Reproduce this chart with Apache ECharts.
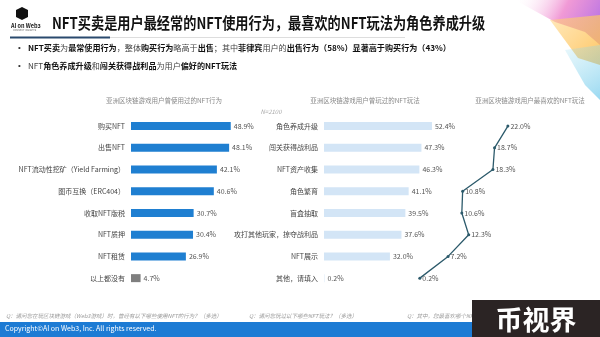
<!DOCTYPE html>
<html><head><meta charset="utf-8">
<script src="https://cdn.jsdelivr.net/npm/echarts@6/dist/echarts.min.js"></script>
<style>html,body{margin:0;padding:0;background:#fff}#c{width:600px;height:337px}</style>
</head><body><div id="c"></div>
<script>
const behaviorCats = ['购买NFT','出售NFT','NFT流动性挖矿（Yield Farming）','图币互换（ERC404）','收取NFT版税','NFT质押','NFT租赁','以上都没有'];
const behaviorVals = [48.9,48.1,42.1,40.6,30.7,30.4,26.9,4.7];
const playCats = ['角色养成升级','闯关获得战利品','NFT资产收集','角色繁育','盲盒抽取','攻打其他玩家，掠夺战利品','NFT展示','其他，请填入'];
const playVals = [52.4,47.3,46.3,41.1,39.5,37.6,32.0,0.2];
const favVals = [22.0,18.7,18.3,10.8,10.6,12.3,7.2,0.2];

const FONT = '"Noto Sans CJK SC","Noto Sans",sans-serif';
const chart = echarts.init(document.getElementById('c'), null, {renderer:'canvas'});
const gTop = 115.2, gH = 173.8;
const lblStyle = {fontSize:7, color:'#555', fontFamily:FONT};
const catLbl = {fontSize:7, color:'#444', fontFamily:FONT, margin:6};

const option = {
  backgroundColor:'#fff',
  animation:false,
  textStyle:{fontFamily:FONT},
  grid:[
    {left:131, top:gTop, width:102, height:gH},
    {left:324, top:gTop, width:113.3, height:gH},
    {left:419, top:gTop, width:101, height:gH}
  ],
  xAxis:[
    {gridIndex:0, type:'value', min:0, max:50, show:false},
    {gridIndex:1, type:'value', min:0, max:55, show:false},
    {gridIndex:2, type:'value', min:0, max:25, show:false}
  ],
  yAxis:[
    {gridIndex:0, type:'category', data:behaviorCats, inverse:true, axisLine:{show:false}, axisTick:{show:false}, axisLabel:catLbl},
    {gridIndex:1, type:'category', data:playCats, inverse:true, axisLine:{show:false}, axisTick:{show:false}, axisLabel:catLbl},
    {gridIndex:2, type:'category', data:playCats, inverse:true, show:false}
  ],
  series:[
    {type:'bar', xAxisIndex:0, yAxisIndex:0, barWidth:8,
     data:behaviorVals.map((v,i)=>({value:v, itemStyle:{color: i===7?'#7f7f7f':'#1f7fd1'}})),
     label:{show:true, position:'right', distance:3, formatter:p=>p.value.toFixed(1)+'%', ...lblStyle}},
    {type:'bar', xAxisIndex:1, yAxisIndex:1, barWidth:8,
     data:playVals, itemStyle:{color:'#d3e5f6'},
     label:{show:true, position:'right', distance:3, formatter:p=>p.value.toFixed(1)+'%', ...lblStyle}},
    {type:'line', xAxisIndex:2, yAxisIndex:2, data:favVals, symbol:'circle', symbolSize:3,
     lineStyle:{color:'#2c5a6b', width:1.3}, itemStyle:{color:'#2c5a6b'},
     label:{show:true, position:'right', distance:1, formatter:p=>p.value.toFixed(1)+'%', ...lblStyle}}
  ],
  graphic:[
    // top-right decoration
    {type:'polygon', shape:{points:[[515,0],[600,0],[600,45],[585,32],[555,22]]},
     style:{fill:new echarts.graphic.LinearGradient(0,0,1,1,[{offset:0,color:'rgba(255,255,255,0)'},{offset:0.5,color:'rgba(236,120,200,0.75)'},{offset:1,color:'rgba(160,90,230,0.9)'}])}},
    {type:'polygon', shape:{points:[[550,20],[600,15],[600,65],[578,58]]},
     style:{fill:new echarts.graphic.LinearGradient(0,0,1,1,[{offset:0,color:'rgba(255,210,120,0.5)'},{offset:1,color:'rgba(255,190,80,0.9)'}])}},
    {type:'polygon', shape:{points:[[565,50],[600,45],[600,100],[585,85]]},
     style:{fill:new echarts.graphic.LinearGradient(0,0,1,1,[{offset:0,color:'rgba(150,220,240,0.2)'},{offset:1,color:'rgba(110,200,235,0.7)'}])}},
    // logo
    {type:'polygon', shape:{points:[[22,7],[28,10],[28,17],[22,20],[16,17],[16,10]]}, style:{fill:'#111'}},
    {type:'text', left:11, top:23, style:{text:'AI on Web3', fontSize:5.5, fontWeight:'bold', fill:'#222', fontFamily:FONT}},
    {type:'text', left:13, top:29, style:{text:'CONNECT INSIGHTS', fontSize:2.5, fill:'#666', fontFamily:FONT}},
    // title
    {type:'text', x:52, y:23, scaleX:0.85, style:{text:'NFT买卖是用户最经常的NFT使用行为，最喜欢的NFT玩法为角色养成升级', fontSize:15.5, fontWeight:'bold', fill:'#111', verticalAlign:'middle', fontFamily:FONT}},
    {type:'line', shape:{x1:110, y1:37.5, x2:405, y2:37.5}, style:{stroke:'#ddd', lineWidth:1}},
    {type:'line', shape:{x1:10, y1:37.5, x2:110, y2:37.5}, style:{stroke:'#2a4a6e', lineWidth:2}},
    // bullets
    {type:'text', left:18, top:44, style:{text:'•', fontSize:8, fill:'#333'}},
    {type:'text', left:18, top:62, style:{text:'•', fontSize:8, fill:'#333'}},
    {type:'text', left:28, top:43.5, style:{
      text:'{b|NFT买卖}{n|为}{b|最常使用行为}{n|，整体}{b|购买行为}{n|略高于}{b|出售}{n|；其中}{b|菲律宾}{n|用户的}{b|出售行为（58%）显著高于购买行为（43%）}',
      rich:{b:{fontSize:8.1, fontWeight:'bold', fill:'#111', fontFamily:FONT}, n:{fontSize:8.1, fill:'#444', fontFamily:FONT}}}},
    {type:'text', left:28, top:61.5, style:{
      text:'{n|NFT}{b|角色养成升级}{n|和}{b|闯关获得战利品}{n|为用户}{b|偏好的NFT玩法}',
      rich:{b:{fontSize:8.1, fontWeight:'bold', fill:'#111', fontFamily:FONT}, n:{fontSize:8.1, fill:'#444', fontFamily:FONT}}}},
    // chart titles
    {type:'text', x:164, y:101, style:{text:'亚洲区块链游戏用户曾使用过的NFT行为', fontSize:6.5, fill:'#888', align:'center', verticalAlign:'middle', fontFamily:FONT}},
    {type:'text', x:365, y:101, style:{text:'亚洲区块链游戏用户曾玩过的NFT玩法', fontSize:6.5, fill:'#888', align:'center', verticalAlign:'middle', fontFamily:FONT}},
    {type:'text', x:530, y:101, style:{text:'亚洲区块链游戏用户最喜欢的NFT玩法', fontSize:6.5, fill:'#888', align:'center', verticalAlign:'middle', fontFamily:FONT}},
    {type:'text', x:271, y:112, style:{text:'N=2100', fontSize:6, fill:'#aaa', fontStyle:'italic', align:'center', verticalAlign:'middle', fontFamily:FONT}},
    // footnotes
    {type:'text', left:6, top:313.5, style:{text:'Q：请问您在玩区块链游戏（Web3游戏）时，曾经有以下哪些使用NFT的行为？（多选）', fontSize:5.5, fill:'#999', fontStyle:'italic', fontFamily:FONT}},
    {type:'text', left:249, top:313.5, style:{text:'Q：请问您玩过以下哪些NFT玩法？（多选）', fontSize:5.5, fill:'#999', fontStyle:'italic', fontFamily:FONT}},
    {type:'text', left:407, top:313.5, style:{text:'Q：其中，您最喜欢哪个NFT玩法？', fontSize:5.5, fill:'#999', fontStyle:'italic', fontFamily:FONT}},
    // footer bar
    {type:'rect', shape:{x:0, y:322, width:600, height:15}, style:{fill:'#1d7bd4'}},
    {type:'text', left:5, top:325, style:{text:'Copyright©AI on Web3, Inc. All rights reserved.', fontSize:7, fill:'#fff', fontFamily:FONT}},
    // watermark
    {type:'rect', shape:{x:472, y:300, width:128, height:37}, style:{fill:'#2b2424'}},
    {type:'text', x:536, y:320, style:{text:'币视界', fontSize:27, fontWeight:'bold', fill:'#fff', align:'center', verticalAlign:'middle', fontFamily:FONT}}
  ]
};
chart.setOption(option);
</script></body></html>
